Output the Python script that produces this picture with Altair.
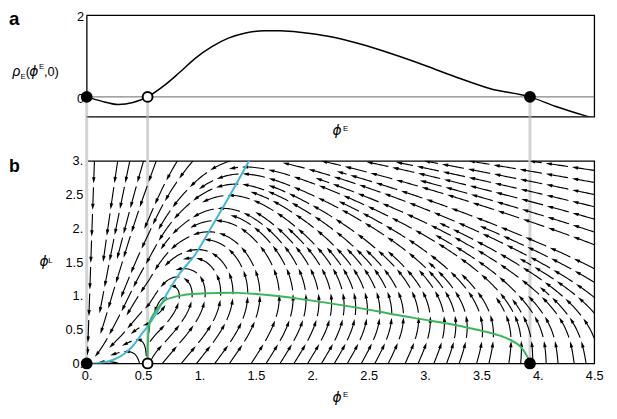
import math
import numpy as np
import pandas as pd
import altair as alt

# ---------------- values ----------------
# panel a : rho_E(phi_E, 0)
a_phiE = [0.0, 0.122, 0.28, 0.41, 0.54, 0.674, 0.82, 0.965, 1.11, 1.256, 1.40, 1.576,
          1.72, 1.925, 2.128, 2.418, 2.71, 3.0, 3.29, 3.58, 3.93, 4.16, 4.44, 4.5]
a_rho = [0.0, -0.097, -0.186, -0.138, 0.0, 0.25, 0.59, 0.95, 1.23, 1.44, 1.56, 1.62,
         1.62, 1.57, 1.49, 1.30, 1.05, 0.77, 0.47, 0.20, 0.0, -0.235, -0.48, -0.53]

# panel b : phi_E nullcline (green)
green_E = [0.54, 0.54, 0.545, 0.56, 0.63, 0.70, 0.85, 1.08, 1.34, 1.69, 1.87, 2.16,
           2.59, 2.74, 3.06, 3.38, 3.70, 3.84, 3.91, 3.93]
green_L = [0.0, 0.2, 0.38, 0.62, 0.82, 0.94, 1.01, 1.04, 1.045, 1.0, 0.96, 0.89,
           0.77, 0.72, 0.63, 0.53, 0.39, 0.26, 0.09, 0.0]

# panel b : phi_L nullcline (cyan)
cyan_E = [0.0, 0.10, 0.18, 0.26, 0.33, 0.38, 0.43, 0.48, 0.55, 0.62, 0.71, 0.82,
          0.965, 1.11, 1.27, 1.44]
cyan_L = [0.0, 0.005, 0.025, 0.07, 0.14, 0.21, 0.30, 0.42, 0.57, 0.75, 1.03, 1.32,
          1.62, 2.03, 2.49, 3.0]

# fixed points on phi_L = 0
fixed_E = [0.0, 0.54, 3.93]
fixed_kind = ["stable", "unstable", "stable"]

x_ticks = [0, 0.5, 1, 1.5, 2, 2.5, 3, 3.5, 4, 4.5]
yb_ticks = [0, 0.5, 1, 1.5, 2, 2.5, 3]
ya_ticks = [0, 2]

# flow-field model, tuned to the arrow directions seen in the picture
k_E = 0.9                     # strength of the phi_L^2 damping on phi_E
b_L = 1.2                     # rate of relaxation of phi_L to its nullcline
c_L = 0.75                    # growth of that rate with phi_L
cyan_far_E = [1.6, 1.8, 2.2, 3.0, 4.5]     # nullcline continuation above the frame
cyan_far_L = [3.3, 3.5, 3.65, 3.75, 3.85]

# ---------------- geometry ----------------
WA, HA = 516, 103
WB, HB = 516, 206
sx, sy = WB / 4.5, HB / 3.0

# ---------------- vector field ----------------
gx, gy = [], []
for e, l in zip(green_E, green_L):
    if not gx or e > gx[-1]:
        gx.append(e); gy.append(l)
gx = np.array(gx); gy = np.array(gy)
ax_ = np.array(a_phiE); ay_ = np.array(a_rho)
cx_ = np.array(cyan_E + cyan_far_E); cy_ = np.array(cyan_L + cyan_far_L)


def field(E, L):
    if gx[0] < E < gx[-1]:
        g2 = float(np.interp(E, gx, gy)) ** 2
    else:
        g2 = float(np.interp(E, ax_, ay_)) / (k_E * max(E, 1e-6))
    dE = k_E * E * (g2 - L * L)
    dL = b_L * (1 + c_L * L * L) * (float(np.interp(E, cx_, cy_)) - L)
    return dE, dL


def direction(x, y):
    dE, dL = field(x / sx, y / sy)
    if math.hypot(dE, dL) < 4e-3:
        return None
    vx, vy = dE * sx, dL * sy
    n = math.hypot(vx, vy)
    return vx / n, vy / n


# ---------------- evenly spaced streamlines ----------------
dsep, dtest, h = 12.0, 6.0, 1.0
cell = dsep
grid = {}


def add_pt(x, y):
    grid.setdefault((int(x // cell), int(y // cell)), []).append((x, y))


def too_close(x, y, d):
    i, j = int(x // cell), int(y // cell)
    d2 = d * d
    for a in (i - 1, i, i + 1):
        for b in (j - 1, j, j + 1):
            for (px, py) in grid.get((a, b), ()):
                if (px - x) ** 2 + (py - y) ** 2 < d2:
                    return True
    return False


def own_close(own, x, y, s):
    i, j = int(x // cell), int(y // cell)
    d2 = dtest * dtest
    for a in (i - 1, i, i + 1):
        for b in (j - 1, j, j + 1):
            for (px, py, ps) in own.get((a, b), ()):
                if abs(ps - s) > 2.5 * dsep and (px - x) ** 2 + (py - y) ** 2 < d2:
                    return True
    return False


def trace(x0, y0, sign, own):
    pts = []
    x, y, s = x0, y0, 0.0
    for _ in range(3000):
        d1 = direction(x, y)
        if d1 is None:
            break
        mx, my = x + 0.5 * h * sign * d1[0], y + 0.5 * h * sign * d1[1]
        d2 = direction(mx, my)
        if d2 is None:
            break
        nx, ny = x + h * sign * d2[0], y + h * sign * d2[1]
        s += h
        if not (0 <= nx <= WB and 0 <= ny <= HB):
            t = 1.0
            if nx < 0: t = min(t, (0 - x) / (nx - x))
            if nx > WB: t = min(t, (WB - x) / (nx - x))
            if ny < 0: t = min(t, (0 - y) / (ny - y))
            if ny > HB: t = min(t, (HB - y) / (ny - y))
            pts.append((x + t * (nx - x), y + t * (ny - y)))
            break
        if too_close(nx, ny, dtest) or own_close(own, nx, ny, sign * s):
            break
        pts.append((nx, ny))
        own.setdefault((int(nx // cell), int(ny // cell)), []).append((nx, ny, sign * s))
        x, y = nx, ny
    return pts


lines = []


def make_line(x0, y0):
    own = {(int(x0 // cell), int(y0 // cell)): [(x0, y0, 0.0)]}
    fwd = trace(x0, y0, 1, own)
    bwd = trace(x0, y0, -1, own)
    pts = bwd[::-1] + [(x0, y0)] + fwd
    if len(pts) * h < 10:
        return None
    for p in pts:
        add_pt(*p)
    lines.append(pts)
    return pts


def grow(seed):
    if too_close(seed[0], seed[1], dsep * 0.99) or direction(*seed) is None:
        return
    first = make_line(*seed)
    if first is None:
        return
    queue = [first]
    while queue:
        ln = queue.pop(0)
        for i in range(0, len(ln), 2):
            a = ln[max(i - 1, 0)]; b = ln[min(i + 1, len(ln) - 1)]
            tx, ty = b[0] - a[0], b[1] - a[1]
            n = math.hypot(tx, ty)
            if n == 0:
                continue
            nx_, ny_ = -ty / n, tx / n
            for sg in (1, -1):
                cxp = ln[i][0] + sg * dsep * nx_
                cyp = ln[i][1] + sg * dsep * ny_
                if 0.5 < cxp < WB - 0.5 and 0.5 < cyp < HB - 0.5:
                    if not too_close(cxp, cyp, dsep * 0.99) and direction(cxp, cyp) is not None:
                        new = make_line(cxp, cyp)
                        if new is not None:
                            queue.append(new)


grow((2.5 * sx, 1.5 * sy))
for yy in np.arange(dsep / 2, HB, dsep / 2):
    for xx in np.arange(dsep / 2, WB, dsep / 2):
        grow((float(xx), float(yy)))

# ---------------- split streamlines into arrows ----------------
P, LSEG, HEAD = 27.0, 23.0, 6.4
seg_rows, head_rows = [], []
sid = 0
for pts in lines:
    arr = np.array(pts)
    ds = np.hypot(np.diff(arr[:, 0]), np.diff(arr[:, 1]))
    s = np.concatenate([[0], np.cumsum(ds)])
    total = s[-1]
    a = 0.0
    while a + 8 <= total:
        b = min(a + LSEG, total)
        stop = b - 0.8 * HEAD
        ss = np.append(np.arange(a, stop, 2.0), stop)
        xs = np.interp(ss, s, arr[:, 0]); ys = np.interp(ss, s, arr[:, 1])
        for o, (xv, yv) in enumerate(zip(xs, ys)):
            seg_rows.append({"seg": sid, "o": o, "E": xv / sx, "L": yv / sy})
        hc = b - HEAD / 2
        hx, hy = np.interp(hc, s, arr[:, 0]), np.interp(hc, s, arr[:, 1])
        p1 = (np.interp(b, s, arr[:, 0]), np.interp(b, s, arr[:, 1]))
        p0 = (np.interp(b - HEAD, s, arr[:, 0]), np.interp(b - HEAD, s, arr[:, 1]))
        ang = math.degrees(math.atan2(p1[0] - p0[0], p1[1] - p0[1])) % 360
        head_rows.append({"E": hx / sx, "L": hy / sy, "ang": ang})
        sid += 1
        a += P

df_seg = pd.DataFrame(seg_rows)
df_head = pd.DataFrame(head_rows)
df_a = pd.DataFrame({"E": a_phiE, "rho": a_rho})
df_green = pd.DataFrame({"E": green_E, "L": green_L, "o": range(len(green_E))})
df_cyan = pd.DataFrame({"E": cyan_E, "L": cyan_L})
df_fp = pd.DataFrame({"E": fixed_E, "kind": fixed_kind, "zero": [0.0] * 3})

# ---------------- chart ----------------
FONT = "Liberation Sans"
PHI_FONT = "DejaVu Sans"
PHI = "ϕ"
LBL = 13
xsc = alt.Scale(domain=[0, 4.5], nice=False, zero=False)
ysa = alt.Scale(domain=[-0.482, 2], nice=False, zero=False)
ysb = alt.Scale(domain=[0, 3], nice=False, zero=False)
mlabel = "datum.value % 1 == 0 ? format(datum.value, 'd') + '.' : format(datum.value, '.1f')"

ax_xa = alt.Axis(labels=False, ticks=False, domain=False, grid=False, title=None)
ax_ya = alt.Axis(values=ya_ticks, ticks=False, domain=False, grid=False, title=None,
                 labelPadding=3, labelBaseline="top", labelOffset=-4.6,
                 labelFontSize=LBL, labelFont=FONT, labelColor="black")
ax_xb = alt.Axis(values=x_ticks, labelExpr=mlabel, ticks=False, domain=False, grid=False,
                 title=None, labelPadding=6, labelFlush=False,
                 labelFontSize=LBL, labelFont=FONT, labelColor="black")
ax_yb = alt.Axis(values=yb_ticks, labelExpr=mlabel, ticks=False, domain=False, grid=False,
                 title=None, labelPadding=4, labelFlush=False,
                 labelFontSize=LBL, labelFont=FONT, labelColor="black")


def XA(f): return alt.X(f, type="quantitative", scale=xsc, axis=ax_xa)
def YA(f): return alt.Y(f, type="quantitative", scale=ysa, axis=ax_ya)
def XB(f): return alt.X(f, type="quantitative", scale=xsc, axis=ax_xb)
def YB(f): return alt.Y(f, type="quantitative", scale=ysb, axis=ax_yb)


def txt(s, x, y, size=13, style="normal", weight="normal", font=FONT):
    return alt.Chart(pd.DataFrame({"t": [s]})).mark_text(
        align="left", baseline="alphabetic", fontSize=size, fontStyle=style,
        fontWeight=weight, font=font, color="black").encode(
        text="t:N", x=alt.value(x), y=alt.value(y))


def phi(x, y):
    return txt(PHI, x, y, 14, style="italic", font=PHI_FONT)


GRAY = "#d3d3d3"
dot_size = 100
fill_scale = alt.Scale(domain=["stable", "unstable"], range=["black", "white"])

# panel a
a_gray = alt.Chart(df_fp).mark_rule(color=GRAY, strokeWidth=3).encode(
    x=XA("E"), y=YA("zero"), y2=alt.value(HA))
a_zero = alt.Chart(df_fp.head(1)).mark_rule(color="#666666", strokeWidth=1).encode(
    y=YA("zero"))
a_curve = alt.Chart(df_a).mark_line(color="black", strokeWidth=1.5, clip=True,
                                    interpolate="monotone").encode(x=XA("E"), y=YA("rho"))
a_dots = alt.Chart(df_fp).mark_point(filled=True, size=dot_size, opacity=1, strokeWidth=2).encode(
    x=XA("E"), y=YA("zero"),
    fill=alt.Fill("kind:N", scale=fill_scale, legend=None),
    stroke=alt.value("black"))

panel_a = alt.layer(
    a_gray, a_zero, a_curve, a_dots,
    txt("a", -79, 9.7, 19, weight="bold"),
    txt("ρ", -75.5, 62, 14, style="italic"),
    txt("E", -67.3, 64.5, 8),
    txt("(", -62, 62, 13),
    phi(-58.5, 62),
    txt("E", -48.5, 55, 8),
    txt(",0)", -43.5, 62, 13),
    phi(250, 122),
    txt("E", 260.5, 117.5, 8),
).properties(width=WA, height=HA)

# panel b
b_gray = alt.Chart(df_fp).mark_rule(color=GRAY, strokeWidth=3).encode(
    x=XB("E"), y=alt.value(-44), y2=alt.value(HB))
b_lines = alt.Chart(df_seg).mark_line(color="black", strokeWidth=1.15, clip=True).encode(
    x=XB("E"), y=YB("L"), detail="seg:N", order="o:Q")
b_heads = alt.Chart(df_head).mark_point(shape="M0,-1L0.55,1L-0.55,1Z", filled=True, size=41,
                                        opacity=1, color="black", strokeWidth=0, clip=True).encode(
    x=XB("E"), y=YB("L"), angle=alt.Angle("ang:Q", scale=None))
b_cyan = alt.Chart(df_cyan).mark_line(color="#3fb8d4", strokeWidth=2, clip=True,
                                      interpolate="monotone").encode(x=XB("E"), y=YB("L"))
b_green = alt.Chart(df_green).mark_line(color="#3cb55a", strokeWidth=2, clip=True,
                                        interpolate="catmull-rom").encode(
    x=XB("E"), y=YB("L"), order="o:Q")
b_dots = alt.Chart(df_fp).mark_point(filled=True, size=dot_size, opacity=1, strokeWidth=2).encode(
    x=XB("E"), y=YB("zero"),
    fill=alt.Fill("kind:N", scale=fill_scale, legend=None),
    stroke=alt.value("black"))

panel_b = alt.layer(
    b_gray, b_lines, b_heads, b_cyan, b_green, b_dots,
    txt("b", -79, 11.7, 18, weight="bold"),
    phi(250, 245),
    txt("E", 260.5, 240.5, 8),
    phi(-48, 107),
    txt("L", -39, 103.5, 8),
).properties(width=WB, height=HB)

chart = alt.vconcat(panel_a, panel_b, spacing=45, bounds="flush").resolve_scale(
    fill="independent").properties(
    padding={"left": 0, "top": -2, "right": 5, "bottom": 5}
).configure(font=FONT).configure_view(stroke="black", strokeWidth=1.3)

chart.save("out.html", embed_options={"renderer": "svg", "actions": False})
